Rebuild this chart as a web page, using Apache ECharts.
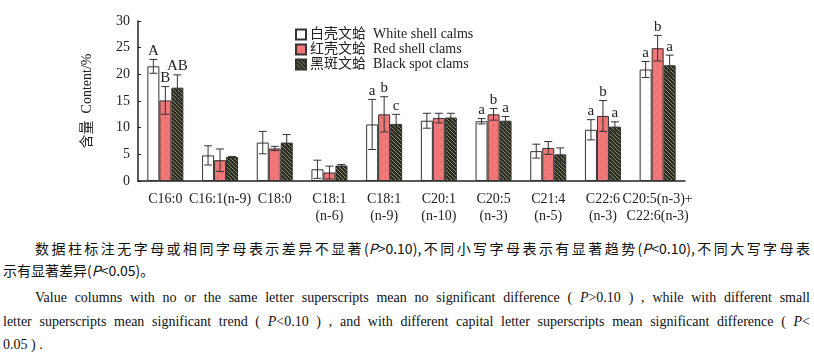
<!DOCTYPE html>
<html><head><meta charset="utf-8">
<script src="https://cdn.jsdelivr.net/npm/echarts@6/dist/echarts.min.js"></script>
<style>
html,body{margin:0;padding:0;background:#fff;width:814px;height:361px;overflow:hidden;}
#chart{position:absolute;left:0;top:0;width:814px;height:232px;}
.cap{position:absolute;font-family:"Liberation Serif","Noto Sans CJK SC",serif;font-size:14px;color:#111;white-space:nowrap;line-height:18px;}
.j{text-align:justify;text-align-last:justify;}
i{font-style:italic;}
</style></head>
<body>
<div id="chart"></div>
<div class="cap j" style="left:35px;top:239px;width:775px;font-family:'Noto Sans CJK SC','Liberation Serif',sans-serif;font-size:14px;">数据柱标注无字母或相同字母表示差异不显著(<i>P</i>&gt;0.10),不同小写字母表示有显著趋势(<i>P</i>&lt;0.10),不同大写字母表</div>
<div class="cap" style="left:3px;top:261px;font-family:'Noto Sans CJK SC','Liberation Serif',sans-serif;">示有显著差异(<i>P</i>&lt;0.05)。</div>
<div class="cap j" style="left:35px;top:289px;width:775px;">Value columns with no or the same letter superscripts mean no significant difference ( <i>P</i>&gt;0.10 ) , while with different small</div>
<div class="cap j" style="left:3px;top:313px;width:807px;">letter superscripts mean significant trend ( <i>P</i>&lt;0.10 ) , and with different capital letter superscripts mean significant difference ( <i>P</i>&lt;</div>
<div class="cap" style="left:3px;top:336px;">0.05 ) .</div>
<script>
var categories = ["C16:0","C16:1(n-9)","C18:0","C18:1\n(n-6)","C18:1\n(n-9)","C20:1\n(n-10)","C20:5\n(n-3)","C21:4\n(n-5)","C22:6\n(n-3)","C20:5(n-3)+\nC22:6(n-3)"];
var seriesNames = ["白壳文蛤  White shell calms","红壳文蛤  Red shell clams","黑斑文蛤  Black spot clams"];
var whiteVals = [21.5, 4.8, 7.2, 2.2, 10.6, 11.3, 11.2, 5.6, 9.6, 20.9];
var redVals   = [15.1, 3.9, 6.1, 1.6, 12.5, 11.8, 12.5, 6.2, 12.2, 24.9];
var blackVals = [17.5, 4.5, 7.2, 2.9, 10.7, 11.9, 11.3, 5.0, 10.2, 21.7];
var whiteErr  = [1.3, 1.8, 2.1, 1.7, 4.7, 1.4, 0.5, 1.3, 1.9, 1.5];
var redErr    = [2.6, 2.1, 0.4, 1.2, 3.3, 0.9, 1.1, 1.2, 2.9, 2.4];
var blackErr  = [2.4, 0.1, 1.5, 0.2, 1.8, 0.8, 0.8, 1.2, 0.9, 1.9];
var whiteLetters = ["A","","","","a","","a","","a","a"];
var redLetters   = ["B","","","","b","","b","","b","b"];
var blackLetters = ["AB","","","","c","","a","","a","a"];
var yTicks = [0,5,10,15,20,25,30];

function makePattern(type){
  var c = document.createElement('canvas');
  if(type==='red'){
    c.width=8;c.height=8;var g=c.getContext('2d');
    g.fillStyle='#f07878';g.fillRect(0,0,8,8);
    g.fillStyle='#c84a4a';g.fillRect(1,1,1,1);g.fillRect(5,5,1,1);
  } else {
    c.width=4;c.height=4;var g=c.getContext('2d');
    g.fillStyle='#2a2c20';g.fillRect(0,0,4,4);
    g.fillStyle='#8e8e74';
    for(var i=0;i<4;i++){g.fillRect(i,i,1,1);}
  }
  return {image:c,repeat:'repeat'};
}

var vals=[whiteVals,redVals,blackVals], errs=[whiteErr,redErr,blackErr], lets=[whiteLetters,redLetters,blackLetters];
var fills=['#ffffff',makePattern('red'),makePattern('black')];
var BW=12;
var series=[];
for(var s=0;s<3;s++){
  series.push({name:seriesNames[s],type:'bar',data:vals[s],barWidth:BW,barGap:'0%',
    itemStyle:{color:fills[s],borderColor:'#333',borderWidth:1}});
}
for(var s=0;s<3;s++){
  (function(s){
    var d=[];
    for(var k=0;k<categories.length;k++){d.push([k,vals[s][k],errs[s][k],lets[s][k]]);}
    series.push({type:'custom',data:d,z:5,silent:true,
      renderItem:function(params,api){
        var k=api.value(0),v=api.value(1),e=api.value(2);
        var letter=d[params.dataIndex][3];
        var x=api.coord([k,0])[0]+(s-1)*BW;
        var yt=api.coord([k,v+e])[1], yb=api.coord([k,v-e])[1];
        var st={stroke:'#333',lineWidth:1};
        var ch=[
          {type:'line',shape:{x1:x,y1:yt,x2:x,y2:yb},style:st},
          {type:'line',shape:{x1:x-4,y1:yt,x2:x+4,y2:yt},style:st},
          {type:'line',shape:{x1:x-4,y1:yb,x2:x+4,y2:yb},style:st}
        ];
        if(letter){ch.push({type:'text',style:{text:letter,x:x,y:yt-1,align:'center',verticalAlign:'bottom',
          font:'15px "Liberation Serif", serif',fill:'#222'}});}
        return {type:'group',children:ch};
      }});
  })(s);
}

var chart=echarts.init(document.getElementById('chart'),null,{renderer:'canvas'});
chart.setOption({
  animation:false,
  grid:{left:138,right:129,top:21,bottom:51},
  legend:{data:seriesNames,orient:'vertical',left:290,top:22,itemWidth:10,itemHeight:10,itemGap:0,icon:'rect',
    textStyle:{fontFamily:'"Liberation Serif","Noto Sans CJK SC",serif',fontSize:14,lineHeight:15,color:'#222',padding:[0,0,0,-1]}},
  xAxis:{type:'category',data:categories,
    axisLine:{lineStyle:{color:'#222',width:1.5}},
    axisTick:{inside:true,length:3,lineStyle:{color:'#222',width:1.5}},
    axisLabel:{interval:0,margin:10,lineHeight:17,fontFamily:'"Liberation Serif",serif',fontSize:14,color:'#222'}},
  yAxis:{type:'value',min:yTicks[0],max:yTicks[yTicks.length-1],interval:5,
    name:'含量  Content/%',nameLocation:'middle',nameGap:44,
    nameTextStyle:{fontFamily:'"Liberation Serif","Noto Sans CJK SC",serif',fontSize:14,color:'#222'},
    axisLine:{show:true,lineStyle:{color:'#222',width:1.5}},
    axisTick:{show:true,inside:true,length:3,lineStyle:{color:'#222'}},
    splitLine:{show:false},
    axisLabel:{fontFamily:'"Liberation Serif",serif',fontSize:14,color:'#222',margin:8}},
  series:series
});
</script>
</body></html>
